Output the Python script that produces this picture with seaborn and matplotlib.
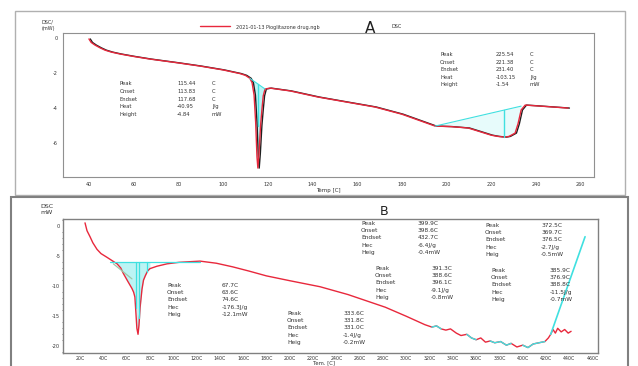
import numpy as np
import matplotlib
matplotlib.use("Agg")
import matplotlib.pyplot as plt
import seaborn as sns
from matplotlib.patches import Rectangle

# ---- panel A data (Temp C, DSC mW) ----
temp_a = [40, 41, 42.7, 45, 47.2, 50, 53.9, 60, 67.3, 80, 89.7, 100, 107.6, 110, 112, 113,
          113.9, 114.6, 115.2, 115.6, 116.1, 116.8, 117.4, 118, 118.8, 121, 130, 142.5, 155,
          168, 180, 194.9, 202, 209.7, 215, 220, 223, 226.2, 228, 230.7, 232, 233.4, 235.2,
          240, 254.4]
dsc_a = [-0.05, -0.25, -0.4, -0.56, -0.69, -0.8, -0.91, -1.05, -1.2, -1.42, -1.6, -1.82, -2.03,
         -2.13, -2.3, -2.55, -3.26, -4.8, -6.8, -7.43, -6.6, -5.0, -4.1, -3.3, -2.91, -2.86,
         -3.02, -3.37, -3.65, -3.94, -4.35, -5.03, -5.06, -5.14, -5.35, -5.55, -5.62, -5.66,
         -5.62, -5.43, -4.9, -4.11, -3.83, -3.87, -4.0]
xticks_a = [40, 60, 80, 100, 120, 140, 160, 180, 200, 220, 240, 260]
yticks_a = [0, -2, -4, -6]
peaks_a = [["Peak", "115.44", "C"], ["Onset", "113.83", "C"], ["Endset", "117.68", "C"],
           ["Heat", "-40.95", "J/g"], ["Height", "-4.84", "mW"]]
peaks_a2 = [["Peak", "225.54", "C"], ["Onset", "221.38", "C"], ["Endset", "231.40", "C"],
            ["Heat", "-103.15", "J/g"], ["Height", "-1.54", "mW"]]

# ---- panel B data ----
temp_b = [24.3, 26, 28.6, 31, 34.6, 38, 43, 47, 51.8, 55, 57.2, 61, 64.6, 66, 67.1, 68, 68.8,
          69.8, 70.6, 71.6, 73.2, 74.5, 76, 78, 80, 86, 94.7, 105, 123, 137, 151, 165, 180, 200,
          226, 250, 282, 300, 316, 322, 326, 330, 334, 338, 343, 347, 352, 356, 360, 364, 368,
          372, 376, 381, 386, 390, 395, 400, 404.5, 409, 414, 419, 422, 424, 426, 428, 430, 433,
          436, 439, 441.5]
dsc_b = [0.5, -0.8, -1.8, -2.8, -3.9, -4.6, -5.2, -5.7, -6.3, -7.0, -7.9, -9.2, -10.4, -11.0,
         -11.8, -14.5, -17.0, -18.0, -16.5, -13.5, -10.5, -9.0, -8.3, -7.5, -7.1, -6.7, -6.3,
         -6.05, -5.85, -6.2, -6.8, -7.5, -8.3, -9.1, -10.1, -11.4, -13.5, -15.0, -16.4, -16.8,
         -16.6, -17.1, -17.3, -17.1, -17.8, -18.2, -18.0, -18.6, -18.9, -18.6, -19.3, -19.1,
         -19.4, -19.2, -19.8, -19.5, -20.1, -19.8, -20.2, -19.6, -19.4, -19.2, -18.6, -18.0,
         -17.2, -17.8, -17.0, -17.6, -17.2, -17.8, -17.5]
xticks_b = list(range(20, 461, 20))
yticks_b = [0, -5, -10, -15, -20]
ann_b = [
    ("67.7C", "63.6C", "74.6C", "-176.3J/g", "-12.1mW"),
    ("333.6C", "331.8C", "331.0C", "-1.4J/g", "-0.2mW"),
    ("399.9C", "398.6C", "432.7C", "-6.4J/g", "-0.4mW"),
    ("372.5C", "369.7C", "376.5C", "-2.7J/g", "-0.5mW"),
    ("391.3C", "388.6C", "396.1C", "-9.1J/g", "-0.8mW"),
    ("385.9C", "376.9C", "388.8C", "-11.5J/g", "-0.7mW"),
]
ann_names = ["Peak", "Onset", "Endset", "Hec", "Heig"]

W, H = 638, 366
sns.set_style("white")
fig = plt.figure(figsize=(W / 100, H / 100), dpi=100)


def fx(x):
    return x / W


def fy(y):
    return 1 - y / H


def px_axes(l, t, r, b):
    return fig.add_axes([fx(l), fy(b), fx(r) - fx(l), (b - t) / H])


cyan = "#40e0e0"
red = "#e8283c"
txt = "#333333"

# outer frames
fig.patches.append(Rectangle((fx(15), fy(195)), fx(625) - fx(15), (195 - 11) / H,
                             transform=fig.transFigure, fill=False, ec="#b0b0b0", lw=1))
fig.patches.append(Rectangle((fx(11), fy(375)), fx(628) - fx(11), (375 - 197) / H,
                             transform=fig.transFigure, fill=False, ec="#808080", lw=1.5))

# ---------- panel A ----------
ax = px_axes(63, 33, 594, 177)
ta = np.array(temp_a)
da = np.array(dsc_a)
sns.lineplot(x=ta + 0.6, y=da, ax=ax, color="#202020", lw=1.0)
sns.lineplot(x=ta, y=da, ax=ax, color=red, lw=1.0)
# integration of peak 1
xs = np.linspace(112, 118.8, 40)
base = np.interp(xs, [112, 118.8], [-2.3, -2.91])
ax.fill_between(xs, base, np.interp(xs, ta, da), color=cyan, alpha=0.35, lw=0)
ax.plot([112, 118.8], [-2.3, -2.91], color=cyan, lw=0.8)
ax.plot([115.44, 115.44], [np.interp(115.44, [112, 118.8], [-2.3, -2.91]), -5.0], color=cyan, lw=1)
# integration of peak 2
xs = np.linspace(194.9, 233.4, 60)
base = np.interp(xs, [194.9, 233.4], [-5.03, -3.89])
ax.fill_between(xs, base, np.interp(xs, ta, da), color=cyan, alpha=0.12, lw=0)
ax.plot([194.9, 233.4], [-5.03, -3.89], color=cyan, lw=0.8)
ax.plot([225.54, 225.54], [np.interp(225.54, [194.9, 233.4], [-5.03, -3.89]), -5.66],
        color=cyan, lw=1)
ax.set_xlim(28.4, 266)
ax.set_ylim(-7.94, 0.29)
ax.set_xticks(xticks_a)
ax.set_xticklabels([str(v) for v in xticks_a], fontsize=3.5, color=txt)
ax.set_yticks(yticks_a)
ax.set_yticklabels([str(v) for v in yticks_a], fontsize=3.5, color=txt)
ax.tick_params(length=2, width=0.5, pad=1.5)
for s in ax.spines.values():
    s.set_color("#909090")
    s.set_linewidth(0.8)
ax.set_xlabel("Temp [C]", fontsize=4, color=txt, labelpad=1)
fig.text(fx(42), fy(23), "DSC/", fontsize=3.5, color=txt)
fig.text(fx(42), fy(30), "(mW)", fontsize=3.5, color=txt)
fig.lines.append(plt.Line2D([fx(200), fx(230)], [fy(26), fy(26)], transform=fig.transFigure,
                            color=red, lw=1))
fig.text(fx(236), fy(28.5), "2021-01-13 Pioglitazone drug.ngb", fontsize=3.5, color=txt)
fig.text(fx(365), fy(33), "A", fontsize=11, color="#202020")
fig.text(fx(392), fy(28.5), "DSC", fontsize=3.5, color=txt)
for i, (n, v, u) in enumerate(peaks_a):
    y = fy(85 + i * 7.8)
    fig.text(fx(120), y, n, fontsize=3.8, color=txt)
    fig.text(fx(177), y, v, fontsize=3.8, color=txt)
    fig.text(fx(212), y, u, fontsize=3.8, color=txt)
for i, (n, v, u) in enumerate(peaks_a2):
    y = fy(56 + i * 7.6)
    fig.text(fx(440), y, n, fontsize=3.8, color=txt)
    fig.text(fx(496), y, v, fontsize=3.8, color=txt)
    fig.text(fx(530), y, u, fontsize=3.8, color=txt)

# ---------- panel B ----------
bx = px_axes(63, 219, 598, 353)
tb = np.array(temp_b)
db = np.array(dsc_b)
xs = np.linspace(47, 80, 80)
bx.fill_between(xs, -6.0, np.interp(xs, tb, db), color=cyan, alpha=0.35, lw=0)
sns.lineplot(x=tb, y=db, ax=bx, color=red, lw=1.0)
bx.plot([45.7, 123], [-6.0, -6.0], color=cyan, lw=0.9)
bx.plot([48.6, 64.6], [-6.3, -8.8], color="#9cc8a8", lw=0.9)
for t in [67.7, 71.0, 77.5]:
    bx.plot([t, t], [-6.0, np.interp(t, tb, db)], color=cyan, lw=0.9)
for lo, hi in [(322, 330), (352, 362), (372, 392), (398, 420)]:
    m = (tb >= lo) & (tb <= hi)
    bx.plot(tb[m], db[m], color=cyan, lw=1.0)
bx.plot([424, 453.5], [-18.0, -1.8], color=cyan, lw=1.2)
bx.set_xlim(5.4, 464.6)
bx.set_ylim(-21.1, 1.14)
bx.set_xticks(xticks_b)
bx.set_xticklabels([f"{v}C" for v in xticks_b], fontsize=3.4, color=txt)
bx.set_yticks(yticks_b)
bx.set_yticklabels([str(v) for v in yticks_b], fontsize=3.6, color=txt)
bx.set_yticks(np.arange(-21, 1.1, 1), minor=True)
bx.tick_params(length=1.5, width=0.5, pad=0.5)
bx.tick_params(which="minor", length=1, width=0.4, left=True)
for s in bx.spines.values():
    s.set_color("#808080")
    s.set_linewidth(1.0)
fig.text(fx(313), fy(365.8), "Tem. [C]", fontsize=3.8, color=txt, va="bottom")
fig.text(fx(40), fy(208), "DSC", fontsize=4.5, color=txt)
fig.text(fx(40), fy(214), "mW", fontsize=4.5, color=txt)
fig.text(fx(380), fy(215), "B", fontsize=9, color="#202020")
pos_b = [(167, 222, 287), (287, 343, 315), (361, 418, 225), (485, 541, 227),
         (375, 431, 270), (491, 550, 272)]
for (lx, vx, y0), vals in zip(pos_b, ann_b):
    for i, (n, v) in enumerate(zip(ann_names, vals)):
        y = fy(y0 + i * 7.2)
        fig.text(fx(lx), y, n, fontsize=4.2, color=txt)
        fig.text(fx(vx), y, v, fontsize=4.2, color=txt)

fig.savefig("out.png", dpi=100)
